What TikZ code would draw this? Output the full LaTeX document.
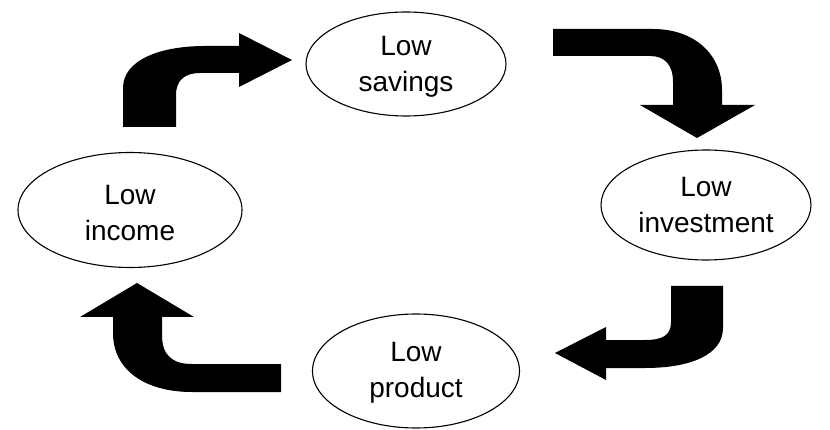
\documentclass[tikz,border=0pt]{standalone}
\usepackage{fontspec}
\setmainfont{Liberation Sans}
\usetikzlibrary{shapes.geometric}
\begin{document}
\begin{tikzpicture}[x=1pt,y=-1pt,
  bubble/.style={ellipse,draw=black,line width=1.1pt,inner sep=0pt,align=center,
    font=\fontsize{28}{36}\selectfont},
  bigarrow/.style={fill=black,draw=none}]
\useasboundingbox (0,0) rectangle (830,430);
% ellipses
\node[bubble,minimum width=200pt,minimum height=104pt] (sav) at (406,64) {};
\node at (406,67) [align=center,font=\fontsize{28}{36}\selectfont] (savt) {Low\\savings};
\node[bubble,minimum width=210pt,minimum height=110pt] (inv) at (706,205) {};
\node at (706,205) [align=center,font=\fontsize{28}{36}\selectfont] (invt) {Low\\investment};
\node[bubble,minimum width=207pt,minimum height=114pt] (prod) at (416,371) {};
\node at (416,373) [align=center,font=\fontsize{28}{36}\selectfont] (prodt) {Low\\product};
\node[bubble,minimum width=224pt,minimum height=115pt] (inc) at (130,210) {};
\node at (130,213) [align=center,font=\fontsize{28}{36}\selectfont] (inct) {Low\\income};
% arrow: income -> savings
\fill[bigarrow] (123,127) -- (123,88) .. controls (123,60) and (160,46) .. (205,46)
  -- (239,46) -- (239,33) -- (292,60) -- (239,87) -- (239,73) -- (200,73)
  .. controls (185,73) and (176,80) .. (176,95) -- (176,127) -- cycle;
% arrow: savings -> investment
\fill[bigarrow] (553,29) -- (653,29) .. controls (695,29) and (722,55) .. (722,90)
  -- (722,105) -- (755,105) -- (697,138) -- (640,105) -- (673,105) -- (673,82)
  .. controls (673,65) and (665,56) .. (650,56) -- (553,56) -- cycle;
% arrow: investment -> product
\fill[bigarrow] (671,286) -- (723,286) -- (723,328) .. controls (723,355) and (690,368) .. (645,368)
  -- (606,368) -- (606,380) -- (555,353) -- (606,327) -- (606,340) -- (645,340)
  .. controls (663,340) and (671,335) .. (671,322) -- cycle;
% arrow: product -> income
\fill[bigarrow] (281,364) -- (281,392) -- (192,392) .. controls (145,392) and (113,370) .. (113,333)
  -- (113,317) -- (80,317) -- (137,283) -- (194,317) -- (162,317) -- (162,335)
  .. controls (162,355) and (172,364) .. (192,364) -- cycle;
\end{tikzpicture}
\end{document}
